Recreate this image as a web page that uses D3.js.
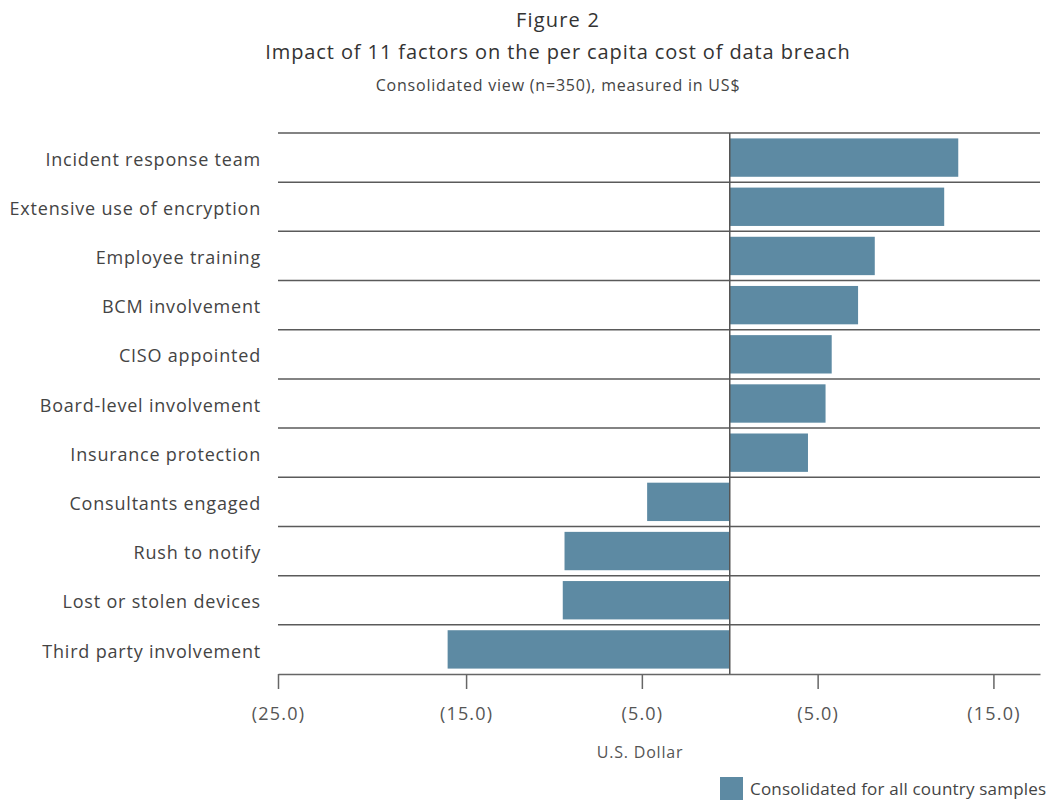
<!DOCTYPE html>
<html>
<head>
<meta charset="utf-8">
<script src="https://cdn.jsdelivr.net/npm/d3@7"></script>
<style>
  body { margin: 0; background: #fff; }
  svg { font-family: "Open Sans", "Noto Sans", sans-serif; }
</style>
</head>
<body>
<div class="chart"></div>
<script>
// data
var factors = ["Incident response team", "Extensive use of encryption", "Employee training",
  "BCM involvement", "CISO appointed", "Board-level involvement", "Insurance protection",
  "Consultants engaged", "Rush to notify", "Lost or stolen devices", "Third party involvement"];
var impact = [13.0, 12.2, 8.25, 7.3, 5.8, 5.45, 4.45, -4.7, -9.4, -9.5, -16.05];
var tickVals = [-25.7, -15, -5, 5, 15];
var tickLabels = ["(25.0)", "(15.0)", "(5.0)", "(5.0)", "(15.0)"];
var seriesName = "Consolidated for all country samples";

var data = factors.map(function(f, i){ return {factor: f, value: impact[i]}; });

const width = 1049, height = 801;
const margin = {top: 133, right: 9, bottom: 127, left: 278};
const barColor = "#5d8aa3";

const svg = d3.select(".chart").append("svg")
    .attr("width", width)
    .attr("height", height);

// titles
svg.append("text").attr("x", 558).attr("y", 27).attr("text-anchor", "middle")
  .attr("font-size", 20).attr("letter-spacing", 1.2).attr("fill", "#333").text("Figure 2");
svg.append("text").attr("x", 558).attr("y", 59).attr("text-anchor", "middle")
  .attr("font-size", 20).attr("letter-spacing", 0.9).attr("fill", "#333")
  .text("Impact of 11 factors on the per capita cost of data breach");
svg.append("text").attr("x", 558).attr("y", 91).attr("text-anchor", "middle")
  .attr("font-size", 16).attr("letter-spacing", 0.8).attr("fill", "#444")
  .text("Consolidated view (n=350), measured in US$");

var x = d3.scaleLinear()
    .domain([-25.7, 17.65])
    .range([margin.left, width - margin.right]);

var y = d3.scaleBand()
    .domain(factors)
    .range([margin.top, height - margin.bottom])
    .paddingInner(0.22)
    .paddingOuter(0.11);

// row separators
var step = y.step();
var bounds = factors.map(function(f){ return y(f) - step * 0.11; });
svg.append("g").selectAll("line")
  .data(bounds)
  .join("line")
    .attr("x1", x.range()[0]).attr("x2", x.range()[1])
    .attr("y1", d => d).attr("y2", d => d)
    .attr("stroke", "#5a5a5a").attr("stroke-width", 1.5);

// bars
svg.append("g").selectAll("rect")
  .data(data)
  .join("rect")
    .attr("x", d => x(Math.min(0, d.value)))
    .attr("y", d => y(d.factor))
    .attr("width", d => Math.abs(x(d.value) - x(0)))
    .attr("height", y.bandwidth())
    .attr("fill", barColor);

// zero line
svg.append("line")
  .attr("x1", x(0)).attr("x2", x(0))
  .attr("y1", margin.top).attr("y2", height - margin.bottom)
  .attr("stroke", "#555").attr("stroke-width", 1.5);

// category labels
svg.append("g").selectAll("text")
  .data(factors)
  .join("text")
    .attr("x", 261)
    .attr("y", d => y(d) + y.bandwidth() / 2)
    .attr("dy", "0.45em")
    .attr("text-anchor", "end")
    .attr("font-size", 18)
    .attr("letter-spacing", 0.8)
    .attr("fill", "#444")
    .text(d => d);

// x axis
var xAxis = svg.append("g")
    .attr("transform", "translate(0," + (height - margin.bottom) + ")")
    .call(d3.axisBottom(x)
      .tickValues(tickVals)
      .tickFormat(function(d, i){ return tickLabels[i]; })
      .tickSizeInner(15)
      .tickSizeOuter(0)
      .tickPadding(18));
xAxis.select(".domain").attr("stroke", "#666").attr("stroke-width", 1.5);
xAxis.selectAll(".tick line").attr("stroke", "#666").attr("stroke-width", 1.5);
xAxis.selectAll(".tick text")
    .attr("font-family", "\"Open Sans\", \"Noto Sans\", sans-serif")
    .attr("font-size", 18).attr("letter-spacing", 1.2).attr("fill", "#555");

svg.append("text").attr("x", 640).attr("y", 758).attr("text-anchor", "middle")
  .attr("font-size", 16).attr("letter-spacing", 0.8).attr("fill", "#555").text("U.S. Dollar");

// legend
var legend = svg.append("g").attr("transform", "translate(720,777)");
legend.append("rect").attr("width", 23).attr("height", 23).attr("fill", barColor);
legend.append("text").attr("x", 30).attr("y", 18)
  .attr("font-size", 17).attr("letter-spacing", 0.2).attr("fill", "#444").text(seriesName);
</script>
</body>
</html>
